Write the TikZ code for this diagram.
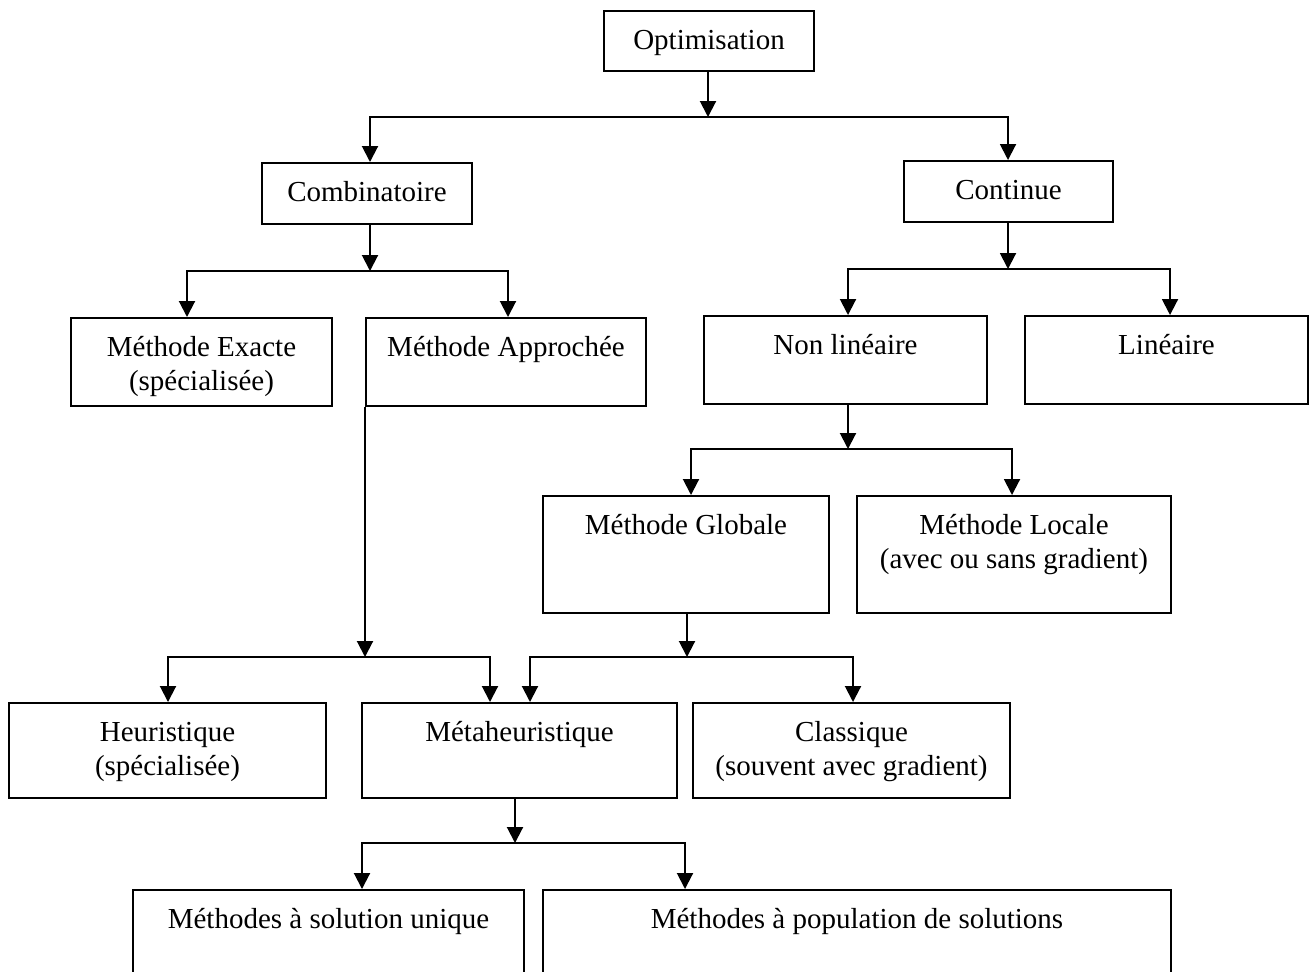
\documentclass[tikz,border=0pt]{standalone}
\usepackage{fontspec}
\setmainfont{Liberation Serif}
\usetikzlibrary{arrows.meta}
\begin{document}
\begin{tikzpicture}[x=0.5pt,y=-0.5pt,
  box/.style={draw, line width=1pt, inner sep=0pt, anchor=north west},
  lbl/.style={anchor=north, inner sep=0pt, align=center, font=\fontsize{14.5}{17}\selectfont},
  conn/.style={line width=1pt},
  arr/.style={line width=1pt, -{Triangle[length=8pt,width=8pt]}}
]
\clip (0,0) rectangle (1309,971);
\fill[white] (0,0) rectangle (1309,971);

% boxes
\node[box, minimum width=105pt,   minimum height=30pt]   (opt)    at (603,10)  {};
\node[box, minimum width=105pt,   minimum height=30.5pt] (comb)   at (261,162) {};
\node[box, minimum width=104.5pt, minimum height=30.5pt] (cont)   at (903,160) {};
\node[box, minimum width=130.5pt, minimum height=44pt]   (exact)  at (70,317)  {};
\node[box, minimum width=140pt,   minimum height=44pt]   (appr)   at (365,317) {};
\node[box, minimum width=141.5pt, minimum height=44pt]   (nonlin) at (703,315) {};
\node[box, minimum width=141.5pt, minimum height=44pt]   (lin)    at (1024,315) {};
\node[box, minimum width=143pt,   minimum height=58.5pt] (glob)   at (542,495) {};
\node[box, minimum width=157pt,   minimum height=58.5pt] (loc)    at (856,495) {};
\node[box, minimum width=158.5pt, minimum height=47.5pt] (heur)   at (8,702)   {};
\node[box, minimum width=157.5pt, minimum height=47.5pt] (meta)   at (361,702) {};
\node[box, minimum width=158.5pt, minimum height=47.5pt] (class)  at (692,702) {};
\node[box, minimum width=195.5pt, minimum height=60pt]   (solu)   at (132,889) {};
\node[box, minimum width=314pt,   minimum height=60pt]   (pop)    at (542,889) {};

% texts, first line near the top of each box
\node[lbl] (optT)    at ([yshift=-7.6pt]opt.north)    {\strut Optimisation};
\node[lbl] (combT)   at ([yshift=-7.6pt]comb.north)   {\strut Combinatoire};
\node[lbl] (contT)   at ([yshift=-7.6pt]cont.north)   {\strut Continue};
\node[lbl] (exactT)  at ([yshift=-7.6pt]exact.north)  {\strut Méthode Exacte\\(spécialisée)};
\node[lbl] (apprT)   at ([yshift=-7.6pt]appr.north)   {\strut Méthode Approchée};
\node[lbl] (nonlinT) at ([yshift=-7.6pt]nonlin.north) {\strut Non linéaire};
\node[lbl] (linT)    at ([yshift=-7.6pt]lin.north)    {\strut Linéaire};
\node[lbl] (globT)   at ([yshift=-7.6pt]glob.north)   {\strut Méthode Globale};
\node[lbl] (locT)    at ([yshift=-7.6pt]loc.north)    {\strut Méthode Locale\\(avec ou sans gradient)};
\node[lbl] (heurT)   at ([yshift=-7.6pt]heur.north)   {\strut Heuristique\\(spécialisée)};
\node[lbl] (metaT)   at ([yshift=-7.6pt]meta.north)  {\strut Métaheuristique};
\node[lbl] (classT)  at ([yshift=-7.6pt]class.north)  {\strut Classique\\(souvent avec gradient)};
\node[lbl] (soluT)   at ([yshift=-7.6pt]solu.north)   {\strut Méthodes à solution unique};
\node[lbl] (popT)    at ([yshift=-7.6pt]pop.north)    {\strut Méthodes à population de solutions};

% junction points on the branching bars
\coordinate (b0) at (708,117);  \coordinate (b0L) at (370,117);  \coordinate (b0R) at (1008,117);
\coordinate (b1) at (370,271);  \coordinate (b1L) at (187,271);  \coordinate (b1R) at (508,271);
\coordinate (b2) at (1008,269); \coordinate (b2L) at (848,269);  \coordinate (b2R) at (1170,269);
\coordinate (b3) at (848,449);  \coordinate (b3L) at (691,449);  \coordinate (b3R) at (1012,449);
\coordinate (b4) at (365,657);  \coordinate (b4L) at (168,657);  \coordinate (b4R) at (490,657);
\coordinate (b5) at (687,657);  \coordinate (b5L) at (530,657);  \coordinate (b5R) at (853,657);
\coordinate (b6) at (515,843);  \coordinate (b6L) at (362,843);  \coordinate (b6R) at (685,843);

% Optimisation
\draw[arr] (b0 |- opt.south) -- (b0);
\draw[arr] (b0) -| (b0L |- comb.north);
\draw[arr] (b0) -| (b0R |- cont.north);
% Combinatoire
\draw[arr] (b1 |- comb.south) -- (b1);
\draw[arr] (b1) -| (b1L |- exact.north);
\draw[arr] (b1) -| (b1R |- appr.north);
% Continue
\draw[arr] (b2 |- cont.south) -- (b2);
\draw[arr] (b2) -| (b2L |- nonlin.north);
\draw[arr] (b2) -| (b2R |- lin.north);
% Non lineaire
\draw[arr] (b3 |- nonlin.south) -- (b3);
\draw[arr] (b3) -| (b3L |- glob.north);
\draw[arr] (b3) -| (b3R |- loc.north);
% Methode approchee
\draw[arr] (appr.south west) -- (b4);
\draw[arr] (b4) -| (b4L |- heur.north);
\draw[arr] (b4) -| (b4R |- meta.north);
% Methode globale
\draw[arr] (b5 |- glob.south) -- (b5);
\draw[arr] (b5) -| (b5L |- meta.north);
\draw[arr] (b5) -| (b5R |- class.north);
% Metaheuristique
\draw[arr] (b6 |- meta.south) -- (b6);
\draw[arr] (b6) -| (b6L |- solu.north);
\draw[arr] (b6) -| (b6R |- pop.north);
\end{tikzpicture}
\end{document}
